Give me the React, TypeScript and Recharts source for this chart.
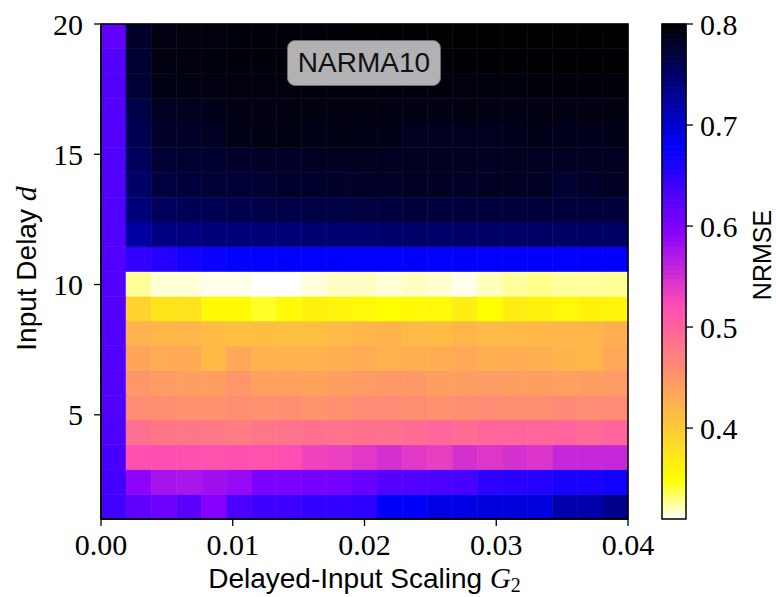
import React from 'react';
import { ComposedChart, XAxis, YAxis, ReferenceArea, Label } from 'recharts';

const W = 776;
const H = 597;

// Delayed-input scaling G2 (columns) and input delay d (rows)
const g2Values = [0, 0.002, 0.004, 0.006, 0.008, 0.01, 0.012, 0.014, 0.016, 0.018, 0.02, 0.022, 0.024, 0.026, 0.028, 0.03, 0.032, 0.034, 0.036, 0.038, 0.04];
const delayValues = [1, 2, 3, 4, 5, 6, 7, 8, 9, 10, 11, 12, 13, 14, 15, 16, 17, 18, 19, 20];

const xTicks = [0, 0.01, 0.02, 0.03, 0.04];
const yTicks = [5, 10, 15, 20];
const cbarTicks = [0.4, 0.5, 0.6, 0.7, 0.8];
const xExtent = [0, 0.04];
const yExtent = [1, 20];
const VMIN = 0.31;
const VMAX = 0.8;

// NRMSE per delay d, one value per G2 column
const nrmseD1 = [0.637, 0.619, 0.610, 0.622, 0.595, 0.631, 0.640, 0.640, 0.647, 0.647, 0.650, 0.682, 0.682, 0.690, 0.690, 0.694, 0.694, 0.694, 0.718, 0.718, 0.733];
const nrmseD2 = [0.636, 0.591, 0.576, 0.573, 0.579, 0.585, 0.601, 0.601, 0.604, 0.607, 0.613, 0.625, 0.628, 0.631, 0.634, 0.650, 0.653, 0.656, 0.662, 0.662, 0.668];
const nrmseD3 = [0.634, 0.517, 0.519, 0.517, 0.515, 0.517, 0.515, 0.519, 0.530, 0.533, 0.539, 0.548, 0.539, 0.535, 0.548, 0.541, 0.547, 0.543, 0.557, 0.557, 0.557];
const nrmseD4 = [0.630, 0.488, 0.481, 0.481, 0.479, 0.474, 0.481, 0.484, 0.486, 0.484, 0.486, 0.486, 0.490, 0.498, 0.490, 0.498, 0.498, 0.498, 0.498, 0.493, 0.498];
const nrmseD5 = [0.629, 0.460, 0.458, 0.455, 0.455, 0.458, 0.455, 0.458, 0.452, 0.455, 0.460, 0.460, 0.458, 0.455, 0.458, 0.460, 0.458, 0.458, 0.462, 0.460, 0.460];
const nrmseD6 = [0.628, 0.450, 0.445, 0.442, 0.442, 0.450, 0.440, 0.440, 0.438, 0.442, 0.445, 0.448, 0.448, 0.442, 0.442, 0.445, 0.442, 0.442, 0.440, 0.442, 0.445];
const nrmseD7 = [0.628, 0.436, 0.429, 0.431, 0.416, 0.433, 0.423, 0.423, 0.423, 0.426, 0.429, 0.423, 0.426, 0.429, 0.433, 0.426, 0.429, 0.426, 0.421, 0.419, 0.433];
const nrmseD8 = [0.628, 0.423, 0.419, 0.419, 0.415, 0.411, 0.413, 0.411, 0.411, 0.416, 0.419, 0.421, 0.416, 0.415, 0.419, 0.416, 0.416, 0.418, 0.419, 0.419, 0.426];
const nrmseD9 = [0.627, 0.392, 0.375, 0.376, 0.354, 0.354, 0.343, 0.354, 0.362, 0.359, 0.356, 0.349, 0.354, 0.356, 0.365, 0.349, 0.366, 0.361, 0.356, 0.361, 0.359];
const nrmseD10 = [0.627, 0.326, 0.316, 0.316, 0.313, 0.313, 0.310, 0.310, 0.315, 0.319, 0.319, 0.316, 0.319, 0.317, 0.313, 0.320, 0.325, 0.328, 0.325, 0.325, 0.326];
const nrmseD11 = [0.628, 0.647, 0.656, 0.665, 0.671, 0.676, 0.677, 0.677, 0.678, 0.677, 0.678, 0.678, 0.677, 0.678, 0.679, 0.678, 0.678, 0.679, 0.678, 0.679, 0.679];
const nrmseD12 = [0.628, 0.722, 0.736, 0.738, 0.741, 0.741, 0.743, 0.743, 0.745, 0.746, 0.746, 0.748, 0.748, 0.749, 0.750, 0.750, 0.750, 0.751, 0.752, 0.753, 0.753];
const nrmseD13 = [0.628, 0.741, 0.756, 0.758, 0.760, 0.762, 0.765, 0.765, 0.766, 0.767, 0.768, 0.769, 0.770, 0.770, 0.771, 0.770, 0.771, 0.772, 0.771, 0.772, 0.772];
const nrmseD14 = [0.628, 0.750, 0.769, 0.771, 0.774, 0.774, 0.776, 0.779, 0.779, 0.780, 0.781, 0.781, 0.782, 0.782, 0.781, 0.782, 0.783, 0.782, 0.776, 0.780, 0.782];
const nrmseD15 = [0.628, 0.756, 0.775, 0.776, 0.777, 0.780, 0.781, 0.781, 0.783, 0.784, 0.785, 0.784, 0.785, 0.785, 0.784, 0.783, 0.785, 0.784, 0.783, 0.784, 0.784];
const nrmseD16 = [0.628, 0.761, 0.780, 0.781, 0.783, 0.789, 0.790, 0.790, 0.789, 0.790, 0.789, 0.788, 0.785, 0.784, 0.785, 0.785, 0.787, 0.788, 0.787, 0.787, 0.788];
const nrmseD17 = [0.628, 0.765, 0.784, 0.785, 0.787, 0.790, 0.792, 0.792, 0.793, 0.792, 0.792, 0.791, 0.791, 0.790, 0.791, 0.791, 0.790, 0.791, 0.791, 0.791, 0.792];
const nrmseD18 = [0.628, 0.774, 0.790, 0.791, 0.792, 0.793, 0.793, 0.793, 0.794, 0.794, 0.794, 0.795, 0.794, 0.794, 0.793, 0.794, 0.794, 0.795, 0.795, 0.795, 0.795];
const nrmseD19 = [0.626, 0.776, 0.792, 0.793, 0.794, 0.795, 0.795, 0.795, 0.796, 0.796, 0.796, 0.797, 0.797, 0.797, 0.797, 0.798, 0.798, 0.798, 0.798, 0.798, 0.798];
const nrmseD20 = [0.618, 0.780, 0.792, 0.793, 0.793, 0.794, 0.795, 0.795, 0.796, 0.797, 0.798, 0.798, 0.798, 0.799, 0.799, 0.799, 0.800, 0.800, 0.800, 0.800, 0.800];

const nrmseRows = [nrmseD1, nrmseD2, nrmseD3, nrmseD4, nrmseD5, nrmseD6, nrmseD7, nrmseD8, nrmseD9, nrmseD10,
  nrmseD11, nrmseD12, nrmseD13, nrmseD14, nrmseD15, nrmseD16, nrmseD17, nrmseD18, nrmseD19, nrmseD20];

// matplotlib "gnuplot2" colormap
const clip01 = (v: number) => Math.max(0, Math.min(1, v));
function gnuplot2(s: number): string {
  const r = clip01(s / 0.32 - 0.78125);
  const g = clip01(2 * s - 0.84);
  let b: number;
  if (s < 0.25) b = 4 * s;
  else if (s < 0.42) b = 1;
  else if (s < 0.92) b = -2 * s + 1.84;
  else b = s / 0.08 - 11.5;
  b = clip01(b);
  return `rgb(${Math.round(r * 255)},${Math.round(g * 255)},${Math.round(b * 255)})`;
}
// reversed colormap: low NRMSE -> white, high -> black
const valueColor = (v: number) => gnuplot2(1 - clip01((v - VMIN) / (VMAX - VMIN)));

const nCols = g2Values.length;
const nRows = delayValues.length;
const cellW = (xExtent[1] - xExtent[0]) / nCols;
const cellH = (yExtent[1] - yExtent[0]) / nRows;

const cells: { key: string; x1: number; x2: number; y1: number; y2: number; color: string }[] = [];
delayValues.forEach((d, ri) => {
  g2Values.forEach((g, ci) => {
    const v = nrmseRows[ri][ci];
    cells.push({
      key: `c-${d}-${g}`,
      x1: xExtent[0] + ci * cellW,
      x2: xExtent[0] + (ci + 1) * cellW,
      y1: yExtent[0] + ri * cellH,
      y2: yExtent[0] + (ri + 1) * cellH,
      color: valueColor(v),
    });
  });
});

// colorbar slices spanning the colour range
const CBAR_STEPS = 196;
const cbarSlices: { key: number; y1: number; y2: number; color: string }[] = [];
for (let i = 0; i < CBAR_STEPS; i++) {
  const a = VMIN + ((VMAX - VMIN) * i) / CBAR_STEPS;
  const b = VMIN + ((VMAX - VMIN) * (i + 1)) / CBAR_STEPS;
  cbarSlices.push({ key: i, y1: a, y2: b, color: valueColor((a + b) / 2) });
}

const tickFont = { fontFamily: 'Liberation Serif', fontSize: 30, fill: '#000' };
const labelFont = 'Liberation Sans';

const XLabel = (props: any) => {
  const vb = props.viewBox || { x: 101, y: 519, width: 527, height: 78 };
  const cx = vb.x + vb.width / 2;
  return (
    <text x={cx} y={vb.y + 69} textAnchor="middle" fontFamily={labelFont} fontSize={28} fill="#000">
      Delayed-Input Scaling{' '}
      <tspan fontFamily="Liberation Serif" fontStyle="italic" fontSize={29}>G</tspan>
      <tspan fontFamily="Liberation Serif" fontSize={20} dy={4}>2</tspan>
    </text>
  );
};

const YLabel = (props: any) => {
  const vb = props.viewBox || { x: 0, y: 24, width: 101, height: 495 };
  const cy = vb.y + vb.height / 2 - 3;
  const x = 36;
  return (
    <text x={x} y={cy} transform={`rotate(-90, ${x}, ${cy})`} textAnchor="middle" fontFamily={labelFont} fontSize={28} fill="#000">
      Input Delay <tspan fontFamily="Liberation Serif" fontStyle="italic" fontSize={30}>d</tspan>
    </text>
  );
};

const CbarLabel = () => {
  const cy = 255;
  const x = 771;
  return (
    <text x={x} y={cy} transform={`rotate(-90, ${x}, ${cy})`} textAnchor="middle" fontFamily={labelFont} fontSize={25} fill="#000">
      NRMSE
    </text>
  );
};

export default function App() {
  return (
    <div style={{ position: 'absolute', left: 0, top: 0, width: W, height: H, background: '#fff' }}>
      <div style={{ position: 'absolute', left: 0, top: 0 }}>
        <ComposedChart width={W} height={H} margin={{ top: 24, right: 148, bottom: 0, left: 0 }}>
          <XAxis
            type="number"
            dataKey="x"
            domain={xExtent}
            ticks={xTicks}
            interval={0}
            allowDataOverflow
            height={78}
            tickFormatter={(v: number) => v.toFixed(2)}
            tick={tickFont}
            tickSize={7}
            tickMargin={8}
            tickLine={{ stroke: '#000', strokeWidth: 1.3 }}
            axisLine={{ stroke: '#000', strokeWidth: 1.5 }}
          >
            <Label content={<XLabel />} />
          </XAxis>
          <YAxis
            type="number"
            dataKey="y"
            domain={yExtent}
            ticks={yTicks}
            interval={0}
            allowDataOverflow
            width={101}
            tick={tickFont}
            tickSize={7}
            tickMargin={11}
            tickLine={{ stroke: '#000', strokeWidth: 1.3 }}
            axisLine={{ stroke: '#000', strokeWidth: 1.5 }}
          >
            <Label content={<YLabel />} />
          </YAxis>
          {cells.map((c) => (
            <ReferenceArea
              key={c.key}
              x1={c.x1}
              x2={c.x2}
              y1={c.y1}
              y2={c.y2}
              fill={c.color}
              fillOpacity={1}
              stroke={c.color}
              strokeWidth={0.6}
              ifOverflow="visible"
            />
          ))}
          <ReferenceArea x1={xExtent[0]} x2={xExtent[1]} y1={yExtent[0]} y2={yExtent[1]} fill="none" fillOpacity={0} stroke="#000" strokeWidth={1.5} ifOverflow="visible" />
        </ComposedChart>
      </div>
      <div style={{ position: 'absolute', left: 0, top: 0 }}>
        <ComposedChart width={W} height={H} margin={{ top: 24, right: 0, bottom: 78, left: 662 }}>
          <XAxis type="number" dataKey="x" domain={[0, 1]} allowDataOverflow hide />
          <YAxis
            type="number"
            dataKey="y"
            orientation="right"
            domain={[VMIN, VMAX]}
            ticks={cbarTicks}
            interval={0}
            allowDataOverflow
            width={90}
            tickFormatter={(v: number) => v.toFixed(1)}
            tick={tickFont}
            tickSize={7}
            tickMargin={7}
            tickLine={{ stroke: '#000', strokeWidth: 1.3 }}
            axisLine={false}
          >
            <Label content={<CbarLabel />} />
          </YAxis>
          {cbarSlices.map((s) => (
            <ReferenceArea
              key={`cb-${s.key}`}
              x1={0}
              x2={1}
              y1={s.y1}
              y2={s.y2}
              fill={s.color}
              fillOpacity={1}
              stroke={s.color}
              strokeWidth={0.8}
              ifOverflow="visible"
            />
          ))}
          <ReferenceArea x1={0} x2={1} y1={VMIN} y2={VMAX} fill="none" fillOpacity={0} stroke="#000" strokeWidth={1.5} ifOverflow="visible" />
        </ComposedChart>
      </div>
      <div
        style={{
          position: 'absolute',
          left: 287,
          top: 40,
          width: 154,
          height: 46,
          boxSizing: 'border-box',
          background: 'rgb(178,178,180)',
          border: '1.5px solid rgb(110,110,110)',
          borderRadius: 8,
          fontFamily: labelFont,
          fontSize: 28,
          color: '#111',
          display: 'flex',
          alignItems: 'center',
          justifyContent: 'center',
        }}
      >
        NARMA10
      </div>
    </div>
  );
}
